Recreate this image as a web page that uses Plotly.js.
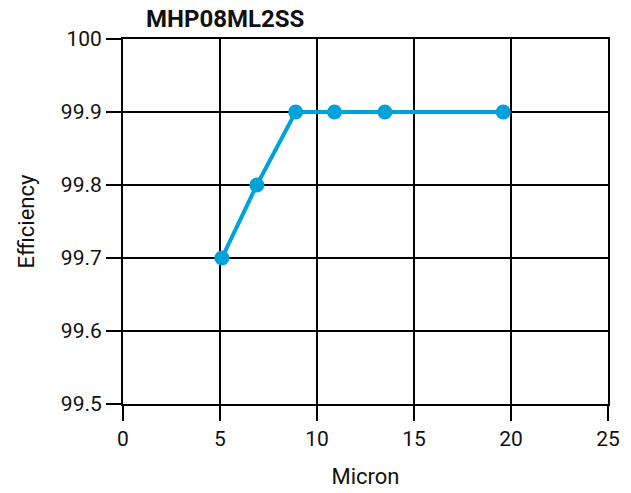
<!DOCTYPE html>
<html>
<head>
<meta charset="utf-8">
<script src="https://cdn.plot.ly/plotly-3.0.1.min.js"></script>
<style>html,body{margin:0;padding:0;background:#fff;}#chart{width:631px;height:493px;}</style>
</head>
<body>
<div id="chart"></div>
<script>
const chartTitle = "MHP08ML2SS";
const xLabel = "Micron";
const yLabel = "Efficiency";
const micron = [5.1, 6.9, 8.9, 10.9, 13.5, 19.6];
const efficiency = [99.7, 99.8, 99.9, 99.9, 99.9, 99.9];
const xTicks = [0, 5, 10, 15, 20, 25];
const yTicks = [99.5, 99.6, 99.7, 99.8, 99.9, 100];
const yTickText = ["99.5", "99.6", "99.7", "99.8", "99.9", "100"];

const lineColor = "#00A3D9";
const fontFam = "Roboto, 'DejaVu Sans', sans-serif";

const trace = {
  x: micron,
  y: efficiency,
  type: "scatter",
  mode: "lines+markers",
  line: {color: lineColor, width: 4},
  marker: {color: lineColor, size: 15},
  cliponaxis: false,
  showlegend: false
};

const layout = {
  width: 631,
  height: 493,
  margin: {l: 123, r: 23, t: 39, b: 89},
  paper_bgcolor: "#fff",
  plot_bgcolor: "#fff",
  font: {family: fontFam, color: "#111", size: 21},
  title: {
    text: "<b>" + chartTitle + "</b>",
    font: {family: fontFam, size: 24, color: "#111"},
    xref: "container", x: 146/631, xanchor: "left",
    yref: "container", y: 1 - 19/493, yanchor: "middle"
  },
  xaxis: {
    range: [0, 25],
    tickvals: xTicks,
    ticks: "outside", ticklen: 15, tickwidth: 2, tickcolor: "#000",
    showgrid: true, gridcolor: "#000", gridwidth: 2,
    zeroline: false,
    showline: true, linecolor: "#000", linewidth: 2, mirror: true,
    tickfont: {size: 21},
    title: {text: xLabel, font: {size: 22}, standoff: 18}
  },
  yaxis: {
    range: [99.5, 100],
    tickvals: yTicks,
    ticktext: yTickText,
    ticks: "outside", ticklen: 15, tickwidth: 2, tickcolor: "#000",
    showgrid: true, gridcolor: "#000", gridwidth: 2,
    zeroline: false,
    showline: true, linecolor: "#000", linewidth: 2, mirror: true,
    tickfont: {size: 21},
    title: {text: yLabel, font: {size: 22}, standoff: 20}
  }
};

Plotly.newPlot("chart", [trace], layout, {displayModeBar: false, staticPlot: true});
</script>
</body>
</html>
